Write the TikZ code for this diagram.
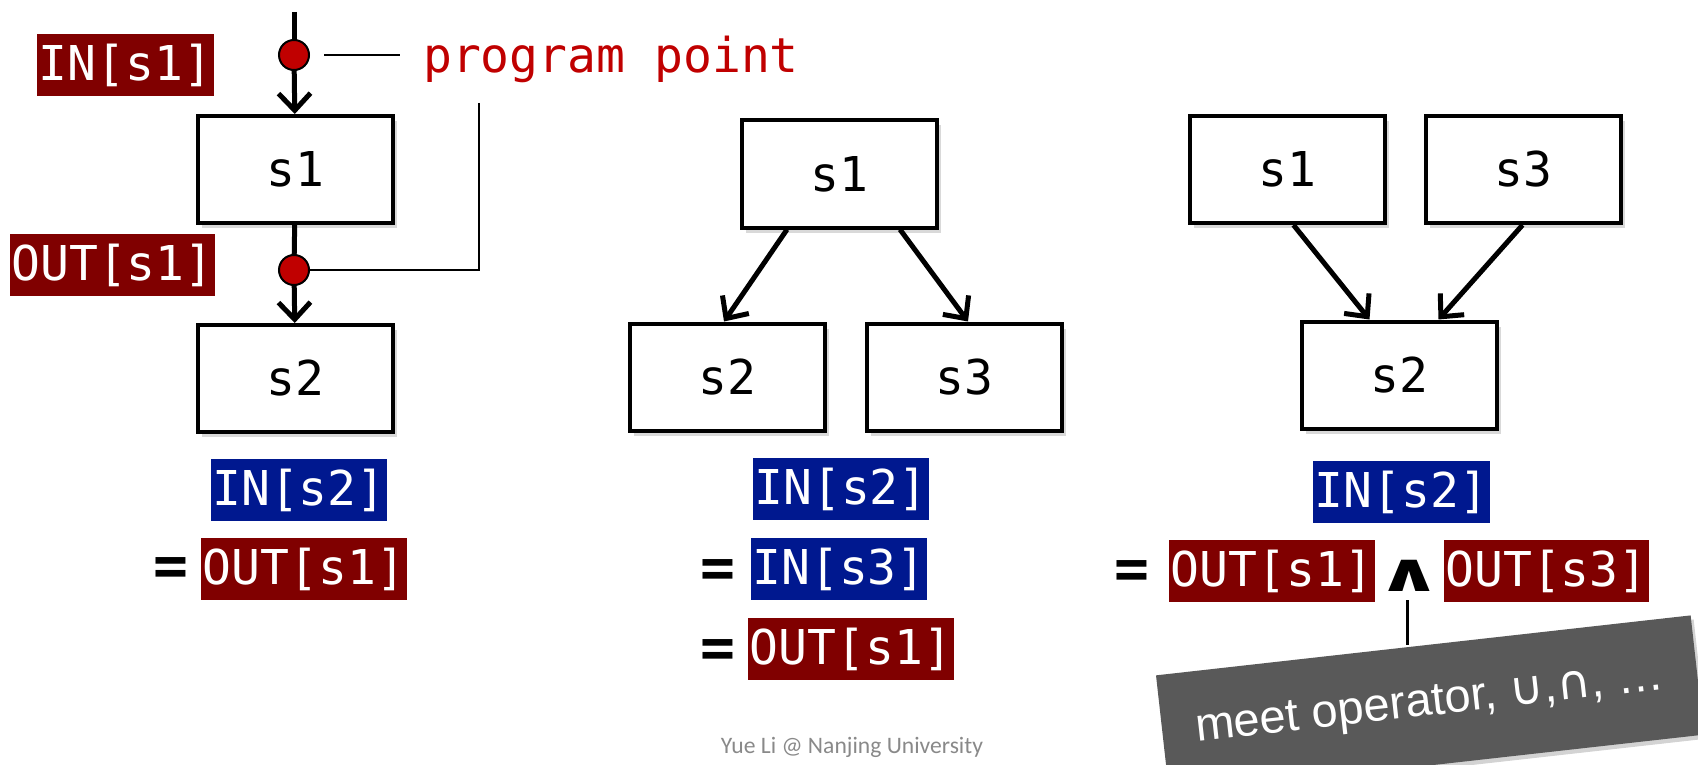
\documentclass[tikz,border=0pt]{standalone}
\usepackage{fontspec}
\setmainfont{Liberation Sans}
\newfontfamily\codefont{DejaVu Sans Mono}
\newfontfamily\symfont{DejaVu Sans}
\newfontfamily\footfont{Carlito}
\usetikzlibrary{arrows.meta,positioning,calc,shadows}
\definecolor{outred}{RGB}{128,0,0}
\definecolor{inblue}{RGB}{0,24,143}
\definecolor{ppred}{RGB}{192,0,0}
\definecolor{meetgray}{RGB}{89,89,89}
\definecolor{footgray}{RGB}{137,137,137}

\begin{document}
\begin{tikzpicture}[x=1pt, y=-1pt,
  stmt/.style={draw=black, line width=4pt, fill=white, minimum width=195pt, minimum height=107pt, inner sep=0pt, font=\codefont\fontsize{48}{56}\selectfont, drop shadow={shadow xshift=4pt, shadow yshift=-5pt, opacity=0.3}},
  outbox/.style={fill=outred, text=white, inner xsep=1.5pt, inner ysep=0pt, minimum height=62pt, font=\codefont\fontsize{48}{56}\selectfont},
  inbox/.style={outbox, fill=inblue},
  eqsign/.style={inner sep=0pt, font=\codefont\bfseries\fontsize{58}{64}\selectfont},
  ppoint/.style={circle, draw=black, line width=2pt, fill=ppred, minimum size=30pt, inner sep=0pt},
  meetbox/.style={fill=meetgray, text=white, minimum width=538pt, minimum height=120pt, inner sep=0pt, font=\fontsize{47}{54}\selectfont, drop shadow={shadow xshift=3pt, shadow yshift=-4pt, opacity=0.35}},
  arr/.style={line width=5pt, -{Straight Barb[length=17pt, width=32pt]}},
  flow/.style={line width=5pt},
  lead/.style={line width=2pt}
]
\clip (0,0) rectangle (1698,765);

% left: program points
\node[stmt] (s1L) at (295.5,169.5) {s1};
\node[stmt] (s2L) at (295.5,378.5) {s2};
\coordinate (top) at (294,12);
\coordinate (p1) at (294,55);
\coordinate (p2) at (294,270);
\coordinate (brk) at (479,103);
\node[outbox] (ins1) at (125.5,65) {IN[s1]};
\node[outbox] (outs1) at (112.5,265) {OUT[s1]};
\node[anchor=base west, inner sep=0pt, text=ppred, font=\codefont\fontsize{48}{56}\selectfont] (pplabel) at (423,73) {program point};

\draw[flow] (top) -- (p1);
\draw[arr] (p1) -- (s1L);
\draw[flow] (s1L) -- (p2);
\draw[arr] (p2) -- (s2L);
\draw[lead] ($(p1)+(30,0)$) -- ($(pplabel.west |- p1)+(-23,0)$);
\draw[lead] (brk) -- (brk |- p2) -- (p2);
\node[ppoint] (dot1) at (p1) {};
\node[ppoint] (dot2) at (p2) {};

\node[inbox] (in2L) at (299,490) {IN[s2]};
\node[eqsign] (eqL) at (171,572) {=};
\node[outbox] (out1L) at (304,569) {OUT[s1]};

% middle: branch
\node[stmt] (s1M) at (839,174) {s1};
\node[stmt] (s2M) at (727,377) {s2};
\node[stmt] (s3M) at (964,377) {s3};
\draw[arr] ([xshift=-52pt]s1M.south) -- ([xshift=-3pt]s2M.north);
\draw[arr] ([xshift=61pt]s1M.south) -- ([xshift=4pt]s3M.north);

\node[inbox] (in2M) at (841,489) {IN[s2]};
\node[eqsign] (eqM1) at (718,574) {=};
\node[inbox] (in3M) at (839,569) {IN[s3]};
\node[eqsign] (eqM2) at (718,654) {=};
\node[outbox] (out1M) at (851,649) {OUT[s1]};

% right: merge
\node[stmt] (s1R) at (1287.5,169.5) {s1};
\node[stmt] (s3R) at (1523.5,169.5) {s3};
\node[stmt] (s2R) at (1399.5,375) {s2};
\draw[arr] ([xshift=6pt]s1R.south) -- ([xshift=-30pt]s2R.north);
\draw[arr] ([xshift=-1pt]s3R.south) -- ([xshift=39pt]s2R.north);

\node[inbox] (in2R) at (1401.5,492) {IN[s2]};
\node[eqsign] (eqR) at (1132,575) {=};
\node[outbox] (out1R) at (1272,571) {OUT[s1]};
\node[inner sep=0pt, font=\symfont\bfseries\fontsize{54}{60}\selectfont] (wedge) at (1409,576) {\scalebox{1.5}[1]{∧}};
\node[outbox] (out3R) at (1546.5,571) {OUT[s3]};

\node[meetbox, rotate=6.4] (meet) at (1430,705) {meet operator, {\symfont ∪},{\symfont ∩}, …};
\coordinate (wtop) at (1407,600);
\draw[line width=3pt] (wtop) -- (wtop |- meet.north);

\node[font=\footfont\fontsize{23.6}{28}\selectfont, text=footgray] (credit) at (852,747) {Yue Li @ Nanjing University};
\end{tikzpicture}
\end{document}
